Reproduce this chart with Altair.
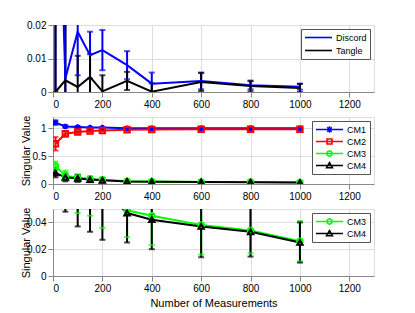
import altair as alt
import pandas as pd

N = [10, 50, 100, 150, 200, 300, 400, 600, 800, 1000]

discord = [0.10, 0.004, 0.018, 0.011, 0.0125, 0.008, 0.0025, 0.0033, 0.002, 0.0016]
discord_err = [0.10, 0.03, 0.013, 0.007, 0.006, 0.0042, 0.0033, 0.0025, 0.0012, 0.0009]
tangle = [0.0, 0.0035, 0.0015, 0.0045, 0.0002, 0.0033, 0.0001, 0.003, 0.0018, 0.0012]
tangle_err = [0.05, 0.03, 0.0093, 0.0068, 0.0048, 0.0027, 0.0025, 0.0027, 0.0016, 0.0012]

cm1 = [1.10, 1.03, 1.02, 1.01, 1.01, 1.00, 1.00, 1.00, 1.00, 1.00]
cm1_err = [0.04, 0.02, 0.015, 0.01, 0.01, 0.01, 0.01, 0.01, 0.01, 0.01]
cm2 = [0.72, 0.90, 0.93, 0.95, 0.96, 0.97, 0.975, 0.98, 0.98, 0.98]
cm2_err = [0.12, 0.05, 0.03, 0.025, 0.02, 0.02, 0.02, 0.02, 0.015, 0.015]
cm3 = [0.32, 0.15, 0.11, 0.09, 0.075, 0.049, 0.045, 0.038, 0.034, 0.026]
cm3_err = [0.08, 0.09, 0.063, 0.045, 0.039, 0.020, 0.022, 0.022, 0.017, 0.015]
cm4 = [0.20, 0.12, 0.10, 0.08, 0.065, 0.047, 0.042, 0.037, 0.033, 0.025]
cm4_err = [0.08, 0.072, 0.063, 0.047, 0.038, 0.022, 0.022, 0.023, 0.0185, 0.015]

x_ticks = [0, 200, 400, 600, 800, 1000, 1200]

FONT = "Liberation Sans"

MARK_PATHS = {
    "CM1": "M-1,0L1,0M0,-1L0,1M-0.7,-0.7L0.7,0.7M-0.7,0.7L0.7,-0.7",
    "CM2": "square",
    "CM3": "circle",
    "CM4": "triangle-up",
}
LEG_PATHS = {
    "Discord": "M-3,0H3",
    "Tangle": "M-3,0H3",
    "CM1": "M-3,0H3M0,-0.7V0.7M-0.5,-0.5L0.5,0.5M-0.5,0.5L0.5,-0.5",
    "CM2": "M-3,0H3M-0.55,-0.55H0.55V0.55H-0.55Z",
    "CM3": "M-3,0H3M0.6,0L0.42,0.42L0,0.6L-0.42,0.42L-0.6,0L-0.42,-0.42L0,-0.6L0.42,-0.42Z",
    "CM4": "M-3,0H3M0,-0.65L0.65,0.5H-0.65Z",
}


def long_df(names, means, errs):
    rows = []
    for name, m, e in zip(names, means, errs):
        for n, v, s in zip(N, m, e):
            rows.append(dict(series=name, n=n, v=v, lo=v - s, hi=v + s))
    return pd.DataFrame(rows)


def panel(names, means, errs, colors, ymax, yticks, ytitle, xtitle, markers, row_pad):
    df = long_df(names, means, errs)
    x = alt.X("n:Q", scale=alt.Scale(domain=[0, 1300], nice=False),
              axis=alt.Axis(values=x_ticks, format="d", title=xtitle, titleFontWeight=400))
    yaxis = alt.Axis(values=yticks, format="~g", title=ytitle, titleFontWeight=400, minExtent=0,
                     titleX=-22)
    y = alt.Y("v:Q", scale=alt.Scale(domain=[0, ymax], nice=False, zero=True), axis=yaxis)
    ysc = alt.Scale(domain=[0, ymax], nice=False)

    def col(legend=None):
        return alt.Color("series:N", scale=alt.Scale(domain=names, range=colors), legend=legend)

    base = alt.Chart(df)
    rules = base.mark_rule(clip=True, strokeWidth=2).encode(
        x=x, y=alt.Y("lo:Q", scale=ysc, axis=yaxis), y2="hi:Q", color=col())
    cap_lo = base.mark_tick(clip=True, orient="horizontal", size=6, thickness=2).encode(
        x=x, y=alt.Y("lo:Q", scale=ysc, axis=yaxis), color=col())
    cap_hi = base.mark_tick(clip=True, orient="horizontal", size=6, thickness=2).encode(
        x=x, y=alt.Y("hi:Q", scale=ysc, axis=yaxis), color=col())
    line = base.mark_line(clip=True, strokeWidth=2).encode(x=x, y=y, color=col())
    layers = [rules, cap_lo, cap_hi, line]
    if markers:
        pts = base.mark_point(clip=True, filled=False, strokeWidth=2, size=30, opacity=1).encode(
            x=x, y=y, color=col(),
            shape=alt.Shape("series:N", scale=alt.Scale(domain=names, range=[MARK_PATHS[n] for n in names]),
                            legend=None))
        layers.append(pts)
    leg_kw = dict(title=None, orient="top-right", offset=4, fillColor="white", strokeColor="#555",
                  padding=3, labelFont=FONT, labelFontSize=9, labelColor="black", symbolSize=81,
                  symbolOffset=9, labelOffset=12, rowPadding=row_pad, symbolStrokeWidth=1.6)
    leg = base.transform_filter("false").mark_point(filled=False, strokeWidth=1.6, size=81, opacity=1).encode(
        x=x, y=y,
        color=col(alt.Legend(**leg_kw)),
        shape=alt.Shape("series:N", scale=alt.Scale(domain=names, range=[LEG_PATHS[n] for n in names]),
                        legend=alt.Legend(**leg_kw)))
    layers.append(leg)
    return alt.layer(*layers).resolve_scale(color="independent", shape="independent").properties(
        width=321, height=67)


p1 = panel(["Discord", "Tangle"], [discord, tangle], [discord_err, tangle_err],
           ["#0000ff", "#000000"], 0.02, [0, 0.01, 0.02], None, None, False, 2)
p2 = panel(["CM1", "CM2", "CM3", "CM4"], [cm1, cm2, cm3, cm4], [cm1_err, cm2_err, cm3_err, cm4_err],
           ["#0000ff", "#ff0000", "#00ff00", "#000000"], 1.2, [0, 0.5, 1], "Singular Value", None, True, -2)
p3 = panel(["CM3", "CM4"], [cm3, cm4], [cm3_err, cm4_err],
           ["#00ff00", "#000000"], 0.05, [0, 0.02, 0.04], "Singular Value", "Number of Measurements", True, -1)

chart = alt.vconcat(p1, p2, p3, spacing=25, bounds="flush").properties(
    padding={"left": 11, "top": 11, "right": 5, "bottom": 5}
).configure_view(stroke="black", strokeWidth=1).configure_axis(
    labelFont=FONT, labelFontSize=9, labelColor="black", titleFont=FONT, titleFontSize=9,
    titleFontWeight=400, titleColor="black", domain=False, ticks=False, labelPadding=3,
    titlePadding=2, grid=True, gridColor="#999", gridDash=[1, 2], gridOpacity=1,
).configure_axisX(labelPadding=1, titlePadding=0).configure(background="white")

chart.save("out.html", embed_options={"renderer": "svg", "actions": False})
